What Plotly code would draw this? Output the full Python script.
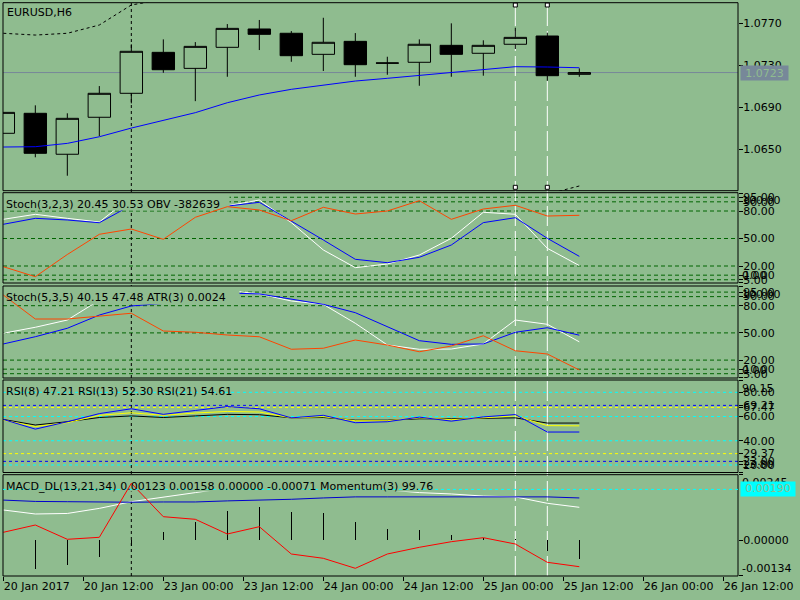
import plotly.graph_objects as go

BG = "#8FBC8F"
W, H = 800, 600
FONT = "DejaVu Sans"

# ---------------- data ----------------
bars = list(range(19))
x_tick_pos = [0, 2.5, 5, 7.5, 10, 12.5, 15, 17.5, 20, 22.5]
x_tick_labels = ["20 Jan 2017", "20 Jan 12:00", "23 Jan 00:00", "23 Jan 12:00", "24 Jan 00:00",
                 "24 Jan 12:00", "25 Jan 00:00", "25 Jan 12:00", "26 Jan 00:00", "26 Jan 12:00"]

price_open = [1.06650, 1.06841, 1.06450, 1.06803, 1.07032, 1.07423, 1.07270, 1.07471, 1.07646, 1.07605,
              1.07404, 1.07528, 1.07322, 1.07328, 1.07490, 1.07414, 1.07500, 1.07579, 1.07213]
price_high = [1.06850, 1.06917, 1.06841, 1.07101, 1.07500, 1.07547, 1.07521, 1.07693, 1.07732, 1.07626,
              1.07753, 1.07607, 1.07381, 1.07547, 1.07700, 1.07538, 1.07658, 1.07610, 1.07270]
price_low = [1.06650, 1.06421, 1.06245, 1.06624, 1.06936, 1.07228, 1.06957, 1.07190, 1.07445, 1.07333,
             1.07245, 1.07190, 1.07209, 1.07104, 1.07190, 1.07200, 1.07455, 1.07152, 1.07190]
price_close = [1.06850, 1.06459, 1.06793, 1.07032, 1.07433, 1.07257, 1.07480, 1.07652, 1.07595, 1.07391,
               1.07519, 1.07305, 1.07320, 1.07500, 1.07404, 1.07490, 1.07566, 1.07200, 1.07230]
ma_line = [1.06519, 1.06522, 1.06554, 1.06617, 1.06700, 1.06770, 1.06847, 1.06942, 1.07016, 1.07070,
           1.07113, 1.07149, 1.07175, 1.07204, 1.07228, 1.07261, 1.07286, 1.07283, 1.07276]
band_up_bars = [0, 1, 2, 3, 4, 5]
band_up = [1.07605, 1.07588, 1.07605, 1.07684, 1.07875, 1.07929]
band_dn_bars = [17, 18]
band_dn = [1.06069, 1.06147]
last_price = 1.0723
price_ticks = [1.0650, 1.0690, 1.0730, 1.0770]

stoch1_main = [70.9, 76.4, 72.0, 68.0, 95.2, 94.0, 90.0, 85.6, 92.0, 67.3,
               37.5, 18.2, 22.2, 32.0, 50.2, 78.6, 76.4, 39.3, 20.45]
stoch1_signal = [65.5, 72.0, 70.2, 67.2, 86.3, 90.0, 88.0, 85.3, 89.5, 69.1,
                 48.4, 27.3, 23.6, 29.5, 42.9, 67.3, 72.7, 50.2, 30.53]
obv = [-485439, -505439, -461039, -420639, -410039, -430639, -386639, -365439, -372039, -393439,
       -366639, -380039, -374039, -353439, -390639, -370039, -362639, -384039, -382639]
stoch_levels = [95, 90, 80, 50, 20, 10, 5]

stoch2_main = [49.6, 56.2, 64.2, 86.0, 95.0, 97.0, 97.0, 97.0, 93.0, 85.2,
               81.5, 60.6, 36.7, 31.9, 32.2, 37.8, 64.2, 59.5, 40.15]
stoch2_signal = [37.8, 45.8, 55.1, 69.7, 79.7, 82.5, 89.0, 94.0, 93.0, 87.0,
                 81.5, 72.3, 56.8, 41.4, 37.4, 37.8, 50.7, 55.7, 47.48]
atr = [0.00540, 0.00444, 0.00444, 0.00457, 0.00467, 0.00396, 0.00391, 0.00380, 0.00373, 0.00323,
       0.00327, 0.00360, 0.00340, 0.00313, 0.00336, 0.00377, 0.00317, 0.00304, 0.00240]

rsi8 = [57.6, 49.6, 55.7, 62.4, 66.4, 61.8, 65.0, 68.2, 66.4, 58.9,
        61.0, 54.9, 55.7, 59.5, 56.2, 59.7, 61.6, 47.2, 47.21]
rsi13 = [57.0, 51.7, 55.0, 61.0, 63.1, 61.0, 62.9, 64.2, 63.7, 58.9,
         59.9, 56.5, 56.5, 59.0, 57.4, 59.0, 60.5, 52.5, 52.30]
rsi21 = [57.6, 53.0, 55.7, 59.2, 60.5, 59.2, 60.5, 61.8, 61.5, 58.9,
         59.2, 57.0, 57.0, 58.1, 58.1, 58.5, 58.9, 54.6, 54.61]
rsi_cyan_levels = [80, 60, 40, 20]
rsi_blue_levels = [69.21, 23.00]
rsi_yellow_levels = [67.47, 29.37]

macd_main = [0.00113, 0.00098, 0.00100, 0.00119, 0.00144, 0.00160, 0.00178, 0.00195, 0.00200, 0.00202,
             0.00200, 0.00195, 0.00188, 0.00178, 0.00173, 0.00165, 0.00162, 0.00138, 0.00123]
macd_signal = [0.00150, 0.00145, 0.00144, 0.00142, 0.00142, 0.00143, 0.00143, 0.00147, 0.00149, 0.00153,
               0.00158, 0.00162, 0.00162, 0.00162, 0.00162, 0.00162, 0.00162, 0.00162, 0.00158]
macd_hist = [0.0, -0.00108, -0.00093, -0.00062, -0.00020, 0.00032, 0.00069, 0.00109, 0.00123, 0.00105,
             0.00102, 0.00069, 0.00042, 0.00038, 0.00019, 0.00009, 0.00004, -0.00039, -0.00071]
momentum = [100.104, 100.177, 100.034, 100.054, 100.594, 100.260, 100.234, 100.087, 100.160, 99.887,
            99.844, 99.744, 99.887, 99.954, 100.010, 100.050, 99.987, 99.804, 99.760]
macd_hline = 0.00190

crosshair_bars = [4]
selected_bars = [16, 17]

# ---------------- layout geometry ----------------
PL, PR = 3, 738
XR = [-0.01, (PR - PL) / 32 - 0.01]
panels = {
    1: (2.7, 190.7, [1.06102, 1.07897]),
    2: (192.7, 283.0, [1.46, 99.96]),
    3: (286.0, 378.0, [0.26, 101.73]),
    4: (380.0, 472.5, [13.8, 90.15]),
    5: (474.7, 576.0, [-0.00134, 0.00245]),
}
OBV_R = [-518039, -337439]
ATR_R = [0.00208, 0.00576]
MOM_R = [99.667, 100.68]


def ydom(p):
    t, b, _ = panels[p]
    return [1 - b / H, 1 - t / H]


def py_val(p, py, rng=None):
    t, b, r = panels[p]
    r = rng or r
    return r[1] - (py - t) / (b - t) * (r[1] - r[0])


def px_x(px):
    return XR[0] + (px - PL) / (PR - PL) * (XR[1] - XR[0])


def pp(py):
    return 1 - py / H


fig = go.Figure()

# panel 1: price
fig.add_trace(go.Candlestick(
    x=bars, open=price_open, high=price_high, low=price_low, close=price_close,
    xaxis="x", yaxis="y", whiskerwidth=0,
    increasing=dict(line=dict(color="black", width=1), fillcolor=BG),
    decreasing=dict(line=dict(color="black", width=1), fillcolor="black"),
    showlegend=False, hoverinfo="skip"))
fig.add_trace(go.Scatter(x=bars, y=ma_line, mode="lines", line=dict(color="#0000FF", width=1),
                         xaxis="x", yaxis="y", showlegend=False))
fig.add_trace(go.Scatter(x=band_up_bars, y=band_up, mode="lines",
                         line=dict(color="black", width=1, dash="3px,3px"),
                         xaxis="x", yaxis="y", showlegend=False))
fig.add_trace(go.Scatter(x=band_dn_bars, y=band_dn, mode="lines",
                         line=dict(color="black", width=1, dash="3px,3px"),
                         xaxis="x", yaxis="y", showlegend=False))
hx = [b for b in selected_bars for _ in (0, 1)]
hy = [py_val(1, v) for _ in selected_bars for v in (5.0, 187.3)]
fig.add_trace(go.Scatter(x=hx, y=hy, mode="markers",
                         marker=dict(symbol="square", size=4, color="white", line=dict(color="black", width=1)),
                         xaxis="x", yaxis="y", showlegend=False, cliponaxis=False))


def mask(p, right_px, bottom_px, yaxis):
    t, b, r = panels[p]
    x0, x1 = px_x(0), px_x(right_px)
    y0, y1 = py_val(p, bottom_px), py_val(p, t - 3)
    fig.add_trace(go.Scatter(x=[x0, x1, x1, x0, x0], y=[y0, y0, y1, y1, y0], mode="lines",
                             fill="toself", fillcolor=BG, line=dict(width=0, color=BG),
                             xaxis="x", yaxis=yaxis, showlegend=False, hoverinfo="skip"))


# panel 2
fig.add_trace(go.Scatter(x=bars, y=stoch1_main, mode="lines", line=dict(color="white", width=1),
                         xaxis="x", yaxis="y2", showlegend=False))
fig.add_trace(go.Scatter(x=bars, y=stoch1_signal, mode="lines", line=dict(color="#0000FF", width=1),
                         xaxis="x", yaxis="y2", showlegend=False))
mask(2, 229.5, 210.5, "y2")
fig.add_trace(go.Scatter(x=bars, y=obv, mode="lines", line=dict(color="#FF4500", width=1),
                         xaxis="x", yaxis="y6", showlegend=False))

# panel 3
fig.add_trace(go.Scatter(x=bars, y=stoch2_main, mode="lines", line=dict(color="white", width=1),
                         xaxis="x", yaxis="y3", showlegend=False))
fig.add_trace(go.Scatter(x=bars, y=stoch2_signal, mode="lines", line=dict(color="#0000FF", width=1),
                         xaxis="x", yaxis="y3", showlegend=False))
mask(3, 239.5, 304.5, "y3")
fig.add_trace(go.Scatter(x=bars, y=atr, mode="lines", line=dict(color="#FF4500", width=1),
                         xaxis="x", yaxis="y7", showlegend=False))

# panel 4
for ser, col in ((rsi21, "black"), (rsi13, "#FFFF00"), (rsi8, "#0000FF")):
    fig.add_trace(go.Scatter(x=bars, y=ser, mode="lines", line=dict(color=col, width=1),
                             xaxis="x", yaxis="y4", showlegend=False))

# panel 5
fig.add_trace(go.Bar(x=bars, y=macd_hist, width=0.045, marker=dict(color="black", line=dict(width=0)),
                     xaxis="x", yaxis="y5", showlegend=False))
fig.add_trace(go.Scatter(x=bars, y=macd_main, mode="lines", line=dict(color="white", width=1),
                         xaxis="x", yaxis="y5", showlegend=False))
fig.add_trace(go.Scatter(x=bars, y=macd_signal, mode="lines", line=dict(color="#0000CD", width=1),
                         xaxis="x", yaxis="y5", showlegend=False))
mask(5, 444, 491.5, "y5")
fig.add_trace(go.Scatter(x=bars, y=momentum, mode="lines", line=dict(color="#FF0000", width=1),
                         xaxis="x", yaxis="y8", showlegend=False))

# ---------------- shapes ----------------
shapes = []
for p, (t, b, _) in panels.items():
    shapes.append(dict(type="rect", xref="paper", yref="paper", x0=PL / W, x1=PR / W,
                       y0=pp(b), y1=pp(t), line=dict(color="black", width=1), layer="above"))
shapes.append(dict(type="line", xref="x domain", yref="y", x0=0, x1=1, y0=last_price, y1=last_price,
                   line=dict(color="#778899", width=1), layer="below"))
for ya in ("y2", "y3"):
    for lv in stoch_levels:
        shapes.append(dict(type="line", xref="x domain", yref=ya, x0=0, x1=1, y0=lv, y1=lv,
                           line=dict(color="#006400", width=1, dash="4px,3px"), layer="below"))
for levels, col in ((rsi_cyan_levels, "#00FFFF"), (rsi_yellow_levels, "#FFFF00"), (rsi_blue_levels, "#0000FF")):
    for lv in levels:
        shapes.append(dict(type="line", xref="x domain", yref="y4", x0=0, x1=1, y0=lv, y1=lv,
                           line=dict(color=col, width=1, dash="3px,3px"), layer="below"))
shapes.append(dict(type="line", xref="x domain", yref="y5", x0=0, x1=1, y0=macd_hline, y1=macd_hline,
                   line=dict(color="#00FFFF", width=1, dash="3px,3px"), layer="above"))
for bx in crosshair_bars:
    shapes.append(dict(type="line", xref="x", yref="paper", x0=bx, x1=bx, y0=pp(576), y1=pp(2.7),
                       line=dict(color="black", width=1, dash="3px,3px"), layer="below"))
for bx in selected_bars:
    shapes.append(dict(type="line", xref="x", yref="paper", x0=bx, x1=bx, y0=pp(576), y1=pp(2.7),
                       line=dict(color="white", width=1, dash="20px,5px"), layer="below"))

# ---------------- annotations ----------------
ann = []
tf = dict(family=FONT, size=11, color="black")


def label(text, x_px, y_px, **kw):
    d = dict(text=text, xref="paper", yref="paper", x=x_px / W, y=pp(y_px), xanchor="left",
             yanchor="middle", showarrow=False, font=tf, borderpad=0)
    d.update(kw)
    ann.append(d)


label("EURUSD,H6", 6, 12.5)
label("Stoch(3,2,3) 20.45 30.53 OBV -382639", 5, 204.5)
label("Stoch(5,3,5) 40.15 47.48 ATR(3) 0.0024", 5, 298)
label("RSI(8) 47.21 RSI(13) 52.30 RSI(21) 54.61", 5, 391.5)
label("MACD_DL(13,21,34) 0.00123 0.00158 0.00000 -0.00071 Momentum(3) 99.76", 5, 486.5)

# edge (max/min) labels on the right scale
for txt, p, edge in (("100.00", 2, "top"), ("0.00", 2, "bottom"), ("100.00", 3, "top"), ("0.00", 3, "bottom"),
                     ("90.15", 4, "top"), ("13.80", 4, "bottom"), ("0.00245", 5, "top"), ("-0.00134", 5, "bottom")):
    t, b, _ = panels[p]
    label(txt, 741, t + 0.5 if edge == "top" else b - 0.5, yanchor=edge)

ann.append(dict(text="1.0723", xref="paper", yref="y", x=740 / W, y=last_price, xanchor="left",
                yanchor="middle", showarrow=False, bgcolor="#778899", font=dict(family=FONT, size=11, color=BG),
                width=45, height=12, borderpad=1))
ann.append(dict(text="0.00190", xref="paper", yref="paper", x=740 / W, y=pp(488.5), xanchor="left",
                yanchor="middle", showarrow=False, bgcolor="#00FFFF", font=dict(family=FONT, size=11, color=BG),
                width=52, height=11.5, borderpad=1))

# ---------------- axes ----------------
yax_common = dict(side="right", anchor="x", ticks="outside", ticklen=4, tickwidth=1, tickcolor="black",
                  showgrid=False, zeroline=False, showline=False, tickfont=tf, fixedrange=True,
                  automargin=False, ticklabelstandoff=-2)


def fmt2(v):
    return f"{v:.2f}"


layout_axes = dict(
    xaxis=dict(domain=[PL / W, PR / W], range=XR, anchor="y5", tickvals=x_tick_pos, ticktext=x_tick_labels,
               ticks="outside", ticklen=4, tickwidth=1, tickcolor="black", ticklabelposition="outside right",
               tickangle=0, automargin=False,
               showgrid=False, zeroline=False, showline=False, tickfont=tf,
               rangeslider=dict(visible=False), fixedrange=True),
    yaxis=dict(domain=ydom(1), range=panels[1][2], tickvals=price_ticks,
               ticktext=[f"{v:.4f}" for v in price_ticks], **yax_common),
    yaxis2=dict(domain=ydom(2), range=panels[2][2], tickvals=[99.5] + stoch_levels + [1.9],
                ticktext=[""] + [fmt2(v) for v in stoch_levels] + [""], **yax_common),
    yaxis3=dict(domain=ydom(3), range=panels[3][2], tickvals=[101.3] + stoch_levels + [0.7],
                ticktext=[""] + [fmt2(v) for v in stoch_levels] + [""], **yax_common),
    yaxis4=dict(domain=ydom(4), range=panels[4][2],
                tickvals=[89.8, 80, rsi_blue_levels[0], rsi_yellow_levels[0], 60, 40, rsi_yellow_levels[1],
                          rsi_blue_levels[1], 20, 14.1],
                ticktext=["", "80.00", fmt2(rsi_blue_levels[0]), fmt2(rsi_yellow_levels[0]), "60.00", "40.00",
                          fmt2(rsi_yellow_levels[1]), fmt2(rsi_blue_levels[1]), "20.00", ""], **yax_common),
    yaxis5=dict(domain=ydom(5), range=panels[5][2], tickvals=[0.00244, 0.0, -0.00133],
                ticktext=["", "0.00000", ""], **yax_common),
    yaxis6=dict(overlaying="y2", range=OBV_R, visible=False, anchor="x", fixedrange=True),
    yaxis7=dict(overlaying="y3", range=ATR_R, visible=False, anchor="x", fixedrange=True),
    yaxis8=dict(overlaying="y5", range=MOM_R, visible=False, anchor="x", fixedrange=True),
)

fig.update_layout(
    width=W, height=H, margin=dict(l=0, r=0, t=0, b=0, autoexpand=False),
    paper_bgcolor=BG, plot_bgcolor="rgba(0,0,0,0)",
    font=tf, showlegend=False, shapes=shapes, annotations=ann,
    bargap=0, boxgap=0.3, boxgroupgap=0, hovermode=False,
    **layout_axes)

fig.write_html("out.html", config=dict(displayModeBar=False, staticPlot=True),
               post_script="document.body.style.margin='0';document.body.style.background='" + BG + "';")
